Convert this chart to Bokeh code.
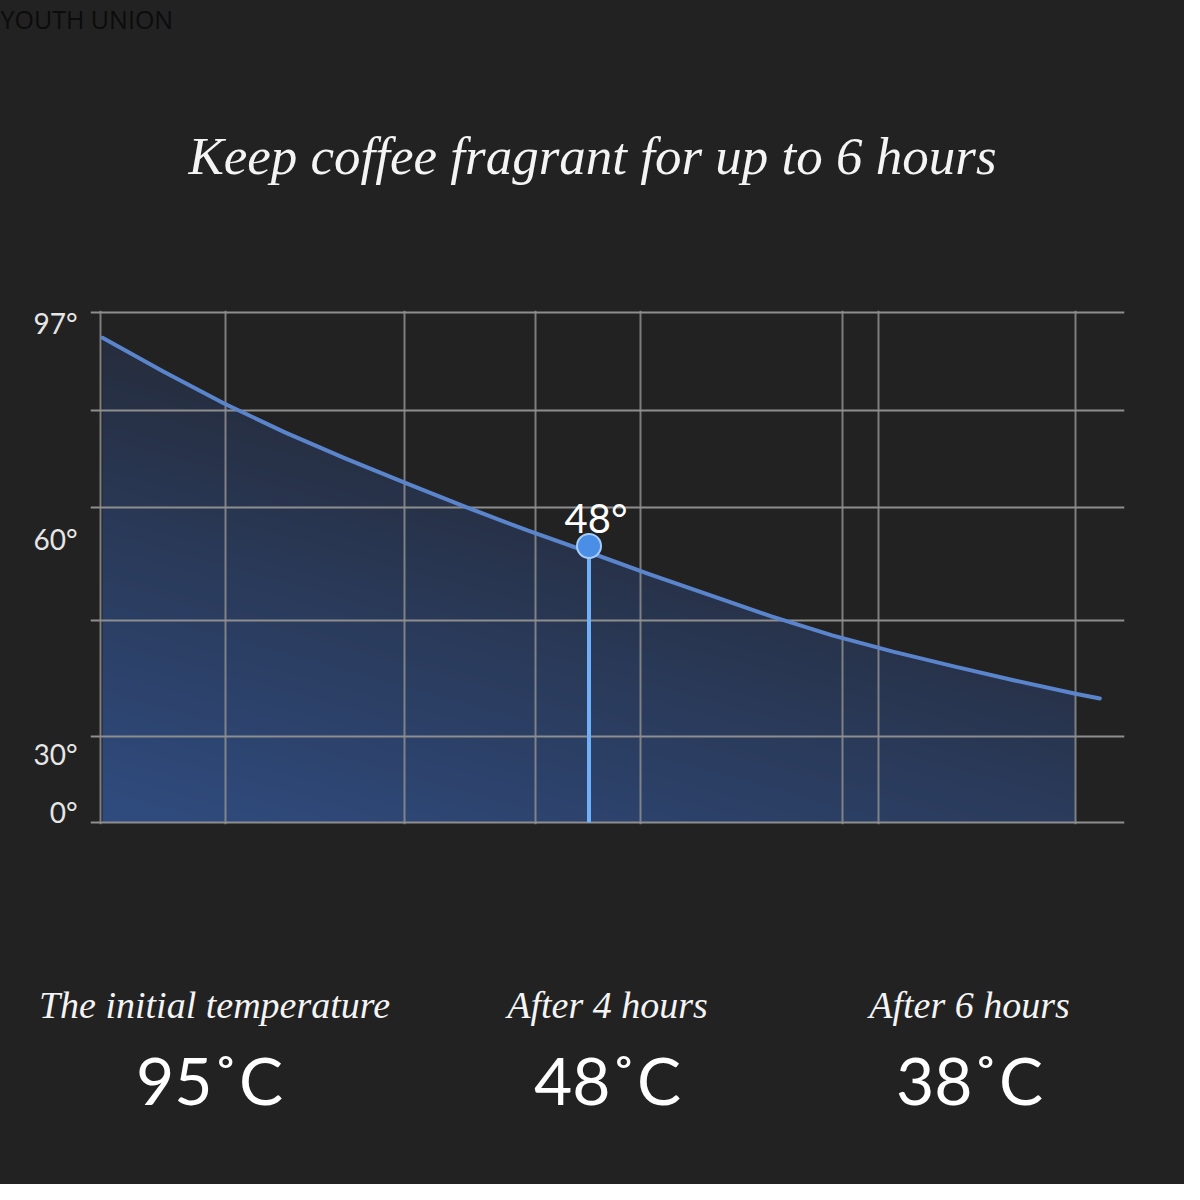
import numpy as np
from bokeh.plotting import figure
from bokeh.layouts import column
from bokeh.models import Range1d, FixedTicker, Grid
from bokeh.core.properties import value
from bokeh.embed import file_html
from bokeh.resources import INLINE

# ---------------- data ----------------
title_text = "Keep coffee fragrant for up to 6 hours"
watermark = "YOUTH UNION"

# cooling curve (hours, display temperature level in degrees)
hours = [0, 0.5, 1, 1.5, 2, 2.5, 3, 3.5, 4, 4.5, 5, 5.5, 6, 6.5, 7, 7.5, 8, 8.2]
temps = [92.2, 85.8, 79.7, 74.2, 69.2, 64.5, 59.9, 55.5, 51.4, 47.2, 43.2, 39.2,
         35.6, 32.5, 29.7, 27.0, 24.5, 23.6]
fill_end_hour = 8.0

# highlighted point
marker_hour = 4
marker_level = 52.6
marker_label = "48°"

# y axis: label positions and texts; grid levels
ytick_pos = [95, 54, 13, 2]
ytick_text = ["97°", "60°", "30°", "0°"]
ygrid_levels = [0, 16.4, 38.4, 59.9, 78.4, 97]
xgrid_hours = [-0.016, 1.011, 2.483, 3.560, 4.423, 6.084, 6.380, 8.0]

# footer
captions = ["The initial temperature", "After 4 hours", "After 6 hours"]
values_c = [95, 48, 38]
value_text = [f"{v}˚C" for v in values_c]

# ---------------- style ----------------
BG = "#222222"
GRID = "#8e8e8e"
W = 1184
HEAD_H, CHART_H, FOOT_H = 290, 582, 312

def blank(h):
    f = figure(width=W, height=h, x_range=Range1d(0, W), y_range=Range1d(h, 0),
               x_axis_location=None, y_axis_location=None, toolbar_location=None,
               output_backend="svg", min_border=0, background_fill_color=BG,
               border_fill_color=BG, outline_line_color=None, frame_align=False)
    f.grid.visible = False
    return f

# ---------------- header ----------------
head = blank(HEAD_H)
head.text(x=[0], y=[1], text=[watermark], text_font=value("Open Sans"),
          text_font_size="25px", text_color="#0c0c0c", text_baseline="top")
head.text(x=[592], y=[155], text=[title_text], text_font=value("Liberation Serif"),
          text_font_style="italic", text_font_size="53px", text_color="#f4f4f4",
          text_align="center", text_baseline="middle")

# ---------------- chart ----------------
s = 510 / 97.0  # px per degree level
pad = 2 / s
px_per_hour = 121.625
p = figure(width=W, height=CHART_H,
           x_range=Range1d(-12 / px_per_hour, 1022 / px_per_hour),
           y_range=Range1d(-pad, 97 + pad),
           x_axis_location=None, toolbar_location=None, output_backend="svg",
           min_border_left=90, min_border_right=60, min_border_top=20, min_border_bottom=48,
           background_fill_color=BG, border_fill_color=BG, outline_line_color=None,
           frame_align=False)
p.grid.visible = False

p.add_layout(Grid(dimension=1, ticker=FixedTicker(ticks=ygrid_levels),
                  grid_line_color=GRID, grid_line_width=2))
p.add_layout(Grid(dimension=0, ticker=FixedTicker(ticks=xgrid_hours),
                  grid_line_color=GRID, grid_line_width=2, grid_line_alpha=0.85))

ax = p.yaxis[0]
ax.ticker = FixedTicker(ticks=ytick_pos)
ax.major_label_overrides = {k: t for k, t in zip(ytick_pos, ytick_text)}
ax.axis_line_color = None
ax.major_tick_line_color = None
ax.minor_tick_line_color = None
ax.major_tick_out = 0
ax.major_tick_in = 0
ax.major_label_standoff = 13
ax.major_label_text_font = "Lato"
ax.major_label_text_font_size = "28px"
ax.major_label_text_color = "#e6e6e6"

# gradient fill under the curve
NX, NY = 800, 500
xs = np.linspace(0, fill_end_hour, NX)
ys = np.linspace(0, 97, NY)
cv = np.interp(xs, hours, temps)
XX, YY = np.meshgrid(xs, ys)
w = np.clip(1 - 0.85 * (YY / 97) - 0.45 * (XX / fill_end_hour), 0, 1) ** 0.9
dark = np.array([35, 36, 42])
blue = np.array([48, 76, 128])
img = np.zeros((NY, NX), dtype=np.uint32)
view = img.view(dtype=np.uint8).reshape((NY, NX, 4))
for c in range(3):
    view[:, :, c] = (dark[c] + (blue[c] - dark[c]) * w).astype(np.uint8)
view[:, :, 3] = np.where(YY <= cv[None, :], 255, 0).astype(np.uint8)
p.image_rgba(image=[img], x=0, y=0, dw=fill_end_hour, dh=97, level="image")

# curve
p.line(hours, temps, line_width=4, line_color="#5a85cc", line_cap="round",
       line_join="round")

# stem, marker, label
p.segment(x0=[marker_hour], y0=[0], x1=[marker_hour], y1=[marker_level],
          line_width=4, line_color="#6fb0f8")
p.scatter(x=[marker_hour], y=[marker_level], size=24, fill_color="#4a8ee6",
          line_color="#a6cdfa", line_width=2)
p.text(x=[marker_hour], y=[marker_level], text=[marker_label], x_offset=7, y_offset=-28,
       text_font=value("Lato"), text_font_size="40px", text_color="#ffffff",
       text_align="center", text_baseline="alphabetic")

# ---------------- footer ----------------
foot = blank(FOOT_H)
col_x = [214, 607, 969]
foot.text(x=col_x, y=[132] * 3, text=captions, text_font=value("Liberation Serif"),
          text_font_style="italic", text_font_size="38px", text_color="#f4f4f4",
          text_align="center", text_baseline="middle")
foot.text(x=[209, 607, 969], y=[207] * 3, text=value_text, text_font=value("Lato"),
          text_font_size="66px", text_color="#ffffff",
          text_align="center", text_baseline="middle")

layout = column(head, p, foot, spacing=0, styles={"background-color": BG})
open("out.html", "w").write(file_html(layout, INLINE))
